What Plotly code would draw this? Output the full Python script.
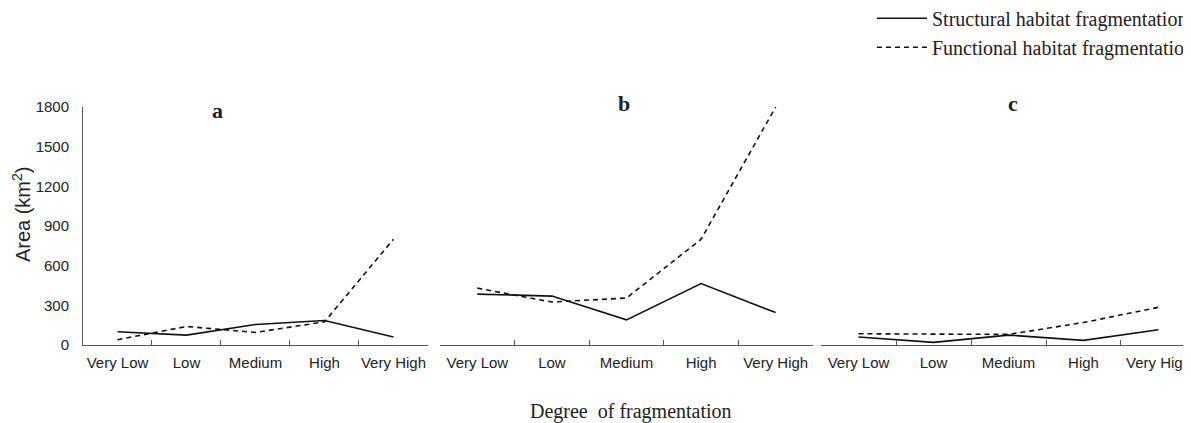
import plotly.graph_objects as go

categories = ["Very Low", "Low", "Medium", "High", "Very High"]
panel_labels = ["a", "b", "c"]

structural_a = [100, 75, 155, 185, 60]
functional_a = [40, 140, 95, 175, 800]
structural_b = [385, 370, 190, 465, 245]
functional_b = [430, 325, 355, 800, 1800]
structural_c = [60, 20, 75, 35, 115]
functional_c = [85, 80, 80, 170, 285]

y_ticks = [0, 300, 600, 900, 1200, 1500, 1800]

structural = [structural_a, structural_b, structural_c]
functional = [functional_a, functional_b, functional_c]

fig = go.Figure()

domains = [[0.0, 0.3091], [0.3199, 0.6541], [0.6613, 0.9973]]
label_x = [0.391, 0.493, 0.511]
label_y = [0.987, 1.013, 1.013]

for i in range(3):
    xa = "x" if i == 0 else f"x{i+1}"
    ya = "y" if i == 0 else f"y{i+1}"
    fig.add_trace(go.Scatter(
        x=categories, y=structural[i], mode="lines",
        line=dict(color="#111111", width=1.6),
        name="Structural habitat fragmentation",
        showlegend=(i == 0), xaxis=xa, yaxis=ya))
    fig.add_trace(go.Scatter(
        x=categories, y=functional[i], mode="lines",
        line=dict(color="#111111", width=1.6, dash="5px,4px"),
        name="Functional habitat fragmentation",
        showlegend=(i == 0), xaxis=xa, yaxis=ya))

layout = dict(
    width=1191, height=423,
    margin=dict(l=75, r=0, t=99, b=86, autoexpand=False),
    paper_bgcolor="white", plot_bgcolor="white",
    font=dict(family="Liberation Sans, Arial, sans-serif", size=15, color="#222222"),
    showlegend=True,
    legend=dict(
        xref="container", yref="paper", x=0.7254, y=1.455,
        xanchor="left", yanchor="top",
        font=dict(family="Liberation Serif, Times New Roman, serif", size=20, color="#222222"),
        bgcolor="rgba(0,0,0,0)", tracegroupgap=0, itemwidth=50,
    ),
)

for i in range(3):
    xkey = "xaxis" if i == 0 else f"xaxis{i+1}"
    ykey = "yaxis" if i == 0 else f"yaxis{i+1}"
    ya_anchor = "y" if i == 0 else f"y{i+1}"
    xa_anchor = "x" if i == 0 else f"x{i+1}"
    layout[xkey] = dict(
        domain=domains[i], anchor=ya_anchor,
        type="category", categoryorder="array", categoryarray=categories,
        range=[-0.5, 4.5], tickson="boundaries", tickangle=0, automargin=False,
        ticks="inside", ticklen=5, tickcolor="#555555", tickwidth=1,
        showline=True, linecolor="#555555", linewidth=1,
        showgrid=False, zeroline=False, ticklabelstandoff=4,
        tickfont=dict(size=15, color="#222222"),
    )
    layout[ykey] = dict(
        domain=[0, 1], anchor=xa_anchor,
        range=[0, 1800], tickvals=y_ticks, automargin=False,
        showgrid=False, zeroline=False,
        showline=(i == 0), linecolor="#555555", linewidth=1,
        showticklabels=(i == 0), ticks="", ticklabelstandoff=10,
        tickfont=dict(size=15, color="#222222"),
    )

fig.update_layout(**layout)

fig.add_annotation(
    text="Area (km<sup>2</sup>)", xref="paper", yref="paper",
    x=(13 - 75) / 1116, y=0.55, xanchor="center", yanchor="middle",
    textangle=-90, showarrow=False,
    font=dict(family="Liberation Sans, Arial, sans-serif", size=20, color="#222222"),
)

for i in range(3):
    xref = "x domain" if i == 0 else f"x{i+1} domain"
    yref = "y domain" if i == 0 else f"y{i+1} domain"
    fig.add_annotation(
        text=f"<b>{panel_labels[i]}</b>", xref=xref, yref=yref,
        x=label_x[i], y=label_y[i], xanchor="center", yanchor="middle",
        showarrow=False,
        font=dict(family="Liberation Serif, Times New Roman, serif", size=22, color="#222222"),
    )

fig.add_annotation(
    text="Degree  of fragmentation", xref="paper", yref="paper",
    x=(623 - 75) / 1116, y=-0.2815, xanchor="center", yanchor="middle", showarrow=False,
    font=dict(family="Liberation Serif, Times New Roman, serif", size=20, color="#222222"),
)

fig.write_html("out.html")
